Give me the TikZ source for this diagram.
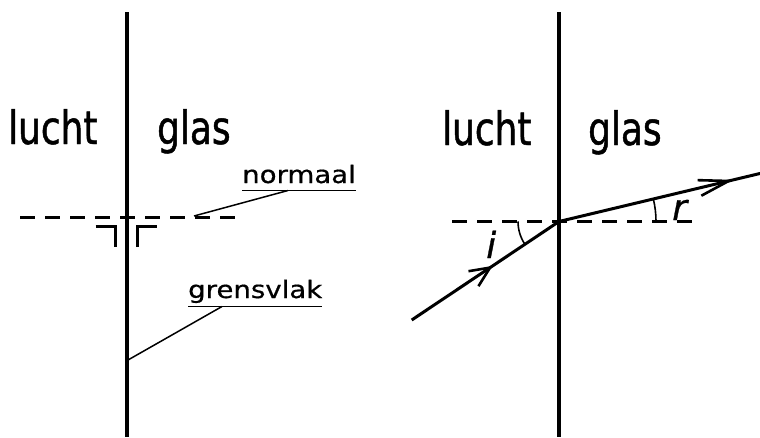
\documentclass[tikz,border=0pt]{standalone}
\usepackage{fontspec}
\setmainfont{DejaVu Sans}
\newfontfamily\bigf[FakeStretch=0.78,FakeBold=1]{DejaVu Sans}
\newfontfamily\smallf[FakeStretch=1.15,FakeBold=0.6]{DejaVu Sans}
\newfontfamily\itf[FakeBold=0.8]{DejaVu Sans Oblique}
\usetikzlibrary{arrows.meta,decorations.markings}
\begin{document}
\begin{tikzpicture}[x=1pt,y=-1pt,
  wall/.style={line width=4.3pt},
  normline/.style={line width=3pt, dash pattern=on 15pt off 10pt},
  raystyle/.style={line width=3pt},
  rightmark/.style={line width=3pt, miter limit=10},
  pointer/.style={line width=1.5pt},
  uline/.style={line width=1.8pt},
  anglearc/.style={line width=1.6pt},
  bigtext/.style={inner sep=0pt, anchor=base west, font=\bigf\fontsize{46}{52}\selectfont},
  smalltext/.style={inner sep=0pt, anchor=base west, font=\smallf\fontsize{24}{28}\selectfont},
  ittext/.style={inner sep=0pt, anchor=base west, font=\itf\fontsize{36}{40}\selectfont},
]
\useasboundingbox (0,0) rectangle (760,437);

% ---------- left diagram ----------
\coordinate (L1) at (127,12);
\coordinate (L2) at (127,437);
\draw[wall] (L1) -- (L2);
\coordinate (N1a) at (20,217);
\coordinate (N1b) at (237,217);
\draw[normline] (N1a) -- (N1b);
\draw[rightmark] (95.5,226) -- (115.5,226) -- (115.5,247);
\draw[rightmark] (137,247) -- (137,226) -- (157,226);

\node[bigtext] (luchtL) at (8,144) {lucht};
\node[bigtext] (glasL) at (157,144) {glas};

\node[smalltext] (norm) at (242,183) {normaal};
\draw[uline] ([yshift=-7.5pt]norm.base west) -- ([yshift=-7.5pt]norm.base east);
\coordinate (p1) at (288,190.5);
\coordinate (q1) at (194,216);
\draw[pointer] (p1) -- (q1);

\node[smalltext] (grens) at (188,298) {grensvlak};
\draw[uline] ([yshift=-8.5pt]grens.base west) -- ([yshift=-8.5pt]grens.base east);
\coordinate (p2) at (222,306.5);
\coordinate (q2) at (128,360);
\draw[pointer] (p2) -- (q2);

% ---------- right diagram ----------
\coordinate (R1) at (559,12);
\coordinate (R2) at (559,437);
\draw[wall] (R1) -- (R2);
\coordinate (N2a) at (452,221.5);
\coordinate (N2b) at (699,221.5);
\draw[normline] (N2a) -- (N2b);

\coordinate (O) at (559,221.5);
\coordinate (A) at (411.7,320);
\coordinate (B) at (762,173);

\draw[raystyle, postaction={decorate}, decoration={markings,
   mark=at position 0.55 with {\arrow{Straight Barb[length=20pt,width=18pt,line width=2.6pt]}}}]
   (A) -- (O);
\draw[raystyle, postaction={decorate}, decoration={markings,
   mark=at position 0.86 with {\arrow{Straight Barb[length=30pt,width=16pt,line width=2.6pt]}}}]
   (O) -- (B);

\draw[anglearc] (O) ++(180:41) arc[start angle=180, end angle=146.2, radius=41];
\draw[anglearc] (O) ++(0:97) arc[start angle=0, end angle=-13.4, radius=97];

\node[ittext] (ilabel) at (486,258) {i};
\node[ittext] (rlabel) at (672,220) {r};

\node[bigtext] (luchtR) at (442,145) {lucht};
\node[bigtext] (glasR) at (588,145) {glas};
\end{tikzpicture}
\end{document}
